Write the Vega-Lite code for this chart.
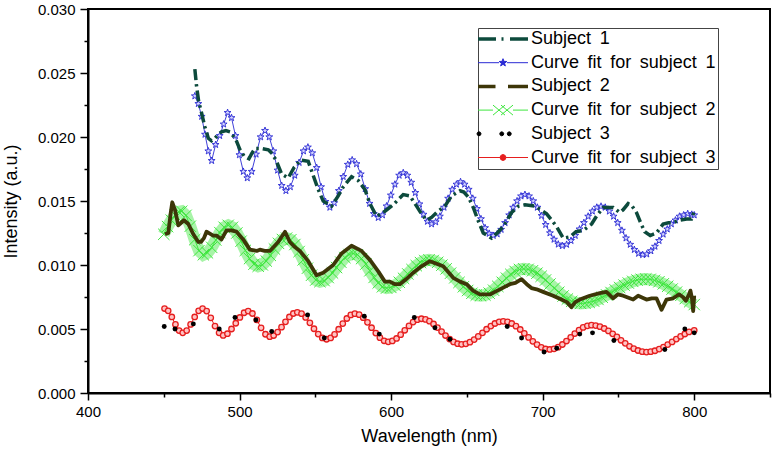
{
  "$schema": "https://vega.github.io/schema/vega-lite/v6.json",
  "width": 682,
  "height": 384,
  "autosize": {"type": "none"},
  "padding": {"left": 88, "top": 9, "right": 10, "bottom": 59},
  "config": {
    "font": "Liberation Sans",
    "view": {"stroke": "#000", "strokeWidth": 2},
    "axis": {"labelColor": "#000", "titleColor": "#000", "titleFontWeight": "normal", "labelFont": "Liberation Sans", "titleFont": "Liberation Sans", "grid": false, "domainColor": "#000", "domainWidth": 2, "tickColor": "#000", "tickWidth": 1.5, "labelFontSize": 15, "titleFontSize": 18, "labelFlush": false, "labelOverlap": false}
  },
  "datasets": {
    "s1": [{"wl":470.5,"val":0.0253},{"wl":471.6,"val":0.0240},{"wl":473,"val":0.0228},{"wl":474.9,"val":0.0219},{"wl":477.1,"val":0.0208},{"wl":479.4,"val":0.0199},{"wl":481.5,"val":0.0197},{"wl":483.7,"val":0.0199},{"wl":486,"val":0.0202},{"wl":488.1,"val":0.0204},{"wl":491,"val":0.0205},{"wl":493.7,"val":0.0204},{"wl":497.6,"val":0.0198},{"wl":500.3,"val":0.0190},{"wl":503,"val":0.0185},{"wl":506.2,"val":0.0183},{"wl":508,"val":0.0187},{"wl":510.2,"val":0.0191},{"wl":514.6,"val":0.0191},{"wl":519,"val":0.0190},{"wl":521.5,"val":0.0187},{"wl":524,"val":0.0182},{"wl":527.8,"val":0.0171},{"wl":532.1,"val":0.0168},{"wl":535.9,"val":0.0176},{"wl":540.2,"val":0.0182},{"wl":545.3,"val":0.0181},{"wl":548.6,"val":0.0170},{"wl":551.9,"val":0.0159},{"wl":555.2,"val":0.0150},{"wl":560.7,"val":0.0146},{"wl":565.1,"val":0.0154},{"wl":568.4,"val":0.0161},{"wl":573.9,"val":0.0169},{"wl":578.3,"val":0.0166},{"wl":582.7,"val":0.0159},{"wl":586,"val":0.0148},{"wl":590.4,"val":0.0138},{"wl":595.9,"val":0.0142},{"wl":601.3,"val":0.0147},{"wl":608,"val":0.0155},{"wl":612.4,"val":0.0154},{"wl":616.8,"val":0.0146},{"wl":620,"val":0.0140},{"wl":623.4,"val":0.0135},{"wl":626.5,"val":0.0137},{"wl":630,"val":0.0141},{"wl":635.5,"val":0.0146},{"wl":639.9,"val":0.0154},{"wl":645.4,"val":0.0158},{"wl":648,"val":0.0157},{"wl":651,"val":0.0153},{"wl":654.2,"val":0.0145},{"wl":657,"val":0.0136},{"wl":660.8,"val":0.0125},{"wl":666.3,"val":0.0121},{"wl":670,"val":0.0125},{"wl":674,"val":0.0130},{"wl":679.5,"val":0.0141},{"wl":684,"val":0.0146},{"wl":688.3,"val":0.0147},{"wl":695,"val":0.0146},{"wl":702.6,"val":0.0140},{"wl":706,"val":0.0135},{"wl":709.2,"val":0.0130},{"wl":713.6,"val":0.0121},{"wl":718,"val":0.0122},{"wl":722,"val":0.0126},{"wl":726.8,"val":0.0127},{"wl":732.3,"val":0.0132},{"wl":736,"val":0.0139},{"wl":740,"val":0.0145},{"wl":746.6,"val":0.0145},{"wl":750.9,"val":0.0141},{"wl":753,"val":0.0143},{"wl":756.4,"val":0.0148},{"wl":759,"val":0.0146},{"wl":761.9,"val":0.0141},{"wl":765,"val":0.0132},{"wl":767.4,"val":0.0126},{"wl":771,"val":0.0123},{"wl":775.1,"val":0.0125},{"wl":779.5,"val":0.0132},{"wl":783,"val":0.0133},{"wl":786.1,"val":0.0133},{"wl":790,"val":0.0135},{"wl":795,"val":0.0136},{"wl":798.2,"val":0.0136},{"wl":800,"val":0.0142}],
    "f1": [{"wl":470.5,"val":0.0232},{"wl":472.8,"val":0.0226},{"wl":475.0,"val":0.0216},{"wl":477.2,"val":0.0202},{"wl":479.4,"val":0.0189},{"wl":481.6,"val":0.01815},{"wl":484.2,"val":0.0194},{"wl":486.9,"val":0.0201},{"wl":489.5,"val":0.0210},{"wl":492.1,"val":0.0219},{"wl":494.7,"val":0.0215},{"wl":497.3,"val":0.0201},{"wl":499.9,"val":0.0186},{"wl":502.5,"val":0.0173},{"wl":505.1,"val":0.0168},{"wl":508.0,"val":0.0173},{"wl":510.9,"val":0.01865},{"wl":513.9,"val":0.0200},{"wl":516.8,"val":0.0205},{"wl":519.6,"val":0.0200},{"wl":522.3,"val":0.0189},{"wl":525.1,"val":0.0174},{"wl":527.8,"val":0.0162},{"wl":530.6,"val":0.0158},{"wl":533.5,"val":0.0161},{"wl":536.4,"val":0.0170},{"wl":539.3,"val":0.0180},{"wl":542.2,"val":0.0189},{"wl":545.1,"val":0.0192},{"wl":548.0,"val":0.01875},{"wl":550.9,"val":0.0176},{"wl":553.8,"val":0.0161},{"wl":556.7,"val":0.01495},{"wl":559.6,"val":0.0145},{"wl":562.5,"val":0.01485},{"wl":565.5,"val":0.0158},{"wl":568.4,"val":0.0169},{"wl":571.4,"val":0.01785},{"wl":574.3,"val":0.0182},{"wl":577.2,"val":0.0179},{"wl":580.0,"val":0.0171},{"wl":582.9,"val":0.01595},{"wl":585.8,"val":0.0148},{"wl":588.6,"val":0.0140},{"wl":591.5,"val":0.0137},{"wl":594.3,"val":0.0139},{"wl":597.0,"val":0.0146},{"wl":599.8,"val":0.01545},{"wl":602.5,"val":0.0163},{"wl":605.3,"val":0.0170},{"wl":608.0,"val":0.0172},{"wl":610.7,"val":0.0170},{"wl":613.3,"val":0.01645},{"wl":616.0,"val":0.01565},{"wl":618.7,"val":0.01476},{"wl":621.4,"val":0.01395},{"wl":624.0,"val":0.0134},{"wl":626.7,"val":0.0132},{"wl":629.4,"val":0.01336},{"wl":632.2,"val":0.0138},{"wl":634.9,"val":0.0145},{"wl":637.6,"val":0.0152},{"wl":640.3,"val":0.0159},{"wl":643.1,"val":0.0163},{"wl":645.8,"val":0.0165},{"wl":648.5,"val":0.0163},{"wl":651.2,"val":0.0159},{"wl":653.9,"val":0.0152},{"wl":656.6,"val":0.0144},{"wl":659.3,"val":0.0136},{"wl":662.0,"val":0.0129},{"wl":664.7,"val":0.01246},{"wl":667.4,"val":0.0123},{"wl":670.0,"val":0.01242},{"wl":672.6,"val":0.01277},{"wl":675.2,"val":0.0133},{"wl":677.9,"val":0.0139},{"wl":680.5,"val":0.0145},{"wl":683.1,"val":0.0150},{"wl":685.7,"val":0.01538},{"wl":688.3,"val":0.0155},{"wl":691.0,"val":0.01538},{"wl":693.8,"val":0.0150},{"wl":696.5,"val":0.0145},{"wl":699.3,"val":0.01385},{"wl":702.0,"val":0.01315},{"wl":704.8,"val":0.0125},{"wl":707.5,"val":0.0120},{"wl":710.3,"val":0.01162},{"wl":713.0,"val":0.0115},{"wl":715.8,"val":0.0116},{"wl":718.7,"val":0.0119},{"wl":721.5,"val":0.0123},{"wl":724.3,"val":0.0128},{"wl":727.2,"val":0.0133},{"wl":730.0,"val":0.0138},{"wl":732.8,"val":0.0142},{"wl":735.7,"val":0.0145},{"wl":738.5,"val":0.01458},{"wl":741.3,"val":0.0145},{"wl":744.0,"val":0.0142},{"wl":746.8,"val":0.0138},{"wl":749.5,"val":0.0133},{"wl":752.3,"val":0.0127},{"wl":755.0,"val":0.0121},{"wl":757.8,"val":0.0116},{"wl":760.5,"val":0.0112},{"wl":763.3,"val":0.0109},{"wl":766.0,"val":0.0108},{"wl":768.7,"val":0.01085},{"wl":771.4,"val":0.0111},{"wl":774.1,"val":0.01145},{"wl":776.8,"val":0.0119},{"wl":779.5,"val":0.0124},{"wl":782.2,"val":0.0128},{"wl":784.9,"val":0.0132},{"wl":787.6,"val":0.0135},{"wl":790.3,"val":0.0138},{"wl":793.0,"val":0.0139},{"wl":795.7,"val":0.0140},{"wl":798.4,"val":0.01395},{"wl":800.0,"val":0.0139}],
    "s2": [{"wl":450.8,"val":0.0124},{"wl":453.0,"val":0.0125},{"wl":454.5,"val":0.0140},{"wl":455.6,"val":0.0149},{"wl":457.4,"val":0.0143},{"wl":459.6,"val":0.0131},{"wl":461.5,"val":0.0133},{"wl":463.3,"val":0.0135},{"wl":466.2,"val":0.0132},{"wl":469.5,"val":0.0124},{"wl":472.8,"val":0.0118},{"wl":474.5,"val":0.0118},{"wl":476.5,"val":0.0121},{"wl":478.2,"val":0.0126},{"wl":482.6,"val":0.0123},{"wl":484.8,"val":0.0123},{"wl":488.1,"val":0.0120},{"wl":491.4,"val":0.0127},{"wl":494.5,"val":0.0127},{"wl":498.0,"val":0.0126},{"wl":502.4,"val":0.0120},{"wl":506.8,"val":0.0112},{"wl":511.3,"val":0.0111},{"wl":513.4,"val":0.0112},{"wl":516.5,"val":0.0111},{"wl":520.0,"val":0.0111},{"wl":525.5,"val":0.0118},{"wl":530.0,"val":0.0126},{"wl":533.2,"val":0.0118},{"wl":536.5,"val":0.0114},{"wl":539.8,"val":0.0111},{"wl":545.3,"val":0.0103},{"wl":550.8,"val":0.0092},{"wl":555.2,"val":0.0094},{"wl":561.8,"val":0.0100},{"wl":567.3,"val":0.0109},{"wl":573.9,"val":0.0115},{"wl":580.5,"val":0.0111},{"wl":586.0,"val":0.0104},{"wl":591.5,"val":0.0095},{"wl":595.9,"val":0.0087},{"wl":599.2,"val":0.0087},{"wl":602.5,"val":0.0085},{"wl":605.8,"val":0.0085},{"wl":610.0,"val":0.0089},{"wl":614.6,"val":0.0094},{"wl":620.0,"val":0.0099},{"wl":625.6,"val":0.0103},{"wl":630.0,"val":0.0101},{"wl":634.4,"val":0.0099},{"wl":641.0,"val":0.0090},{"wl":645.5,"val":0.0087},{"wl":649.8,"val":0.0085},{"wl":654.0,"val":0.0080},{"wl":658.6,"val":0.0077},{"wl":665.2,"val":0.0077},{"wl":668.5,"val":0.0079},{"wl":671.8,"val":0.0081},{"wl":678.4,"val":0.0085},{"wl":682.0,"val":0.0086},{"wl":686.0,"val":0.0089},{"wl":689.5,"val":0.0085},{"wl":692.6,"val":0.0082},{"wl":696.0,"val":0.0081},{"wl":700.3,"val":0.0079},{"wl":706.9,"val":0.0076},{"wl":712.4,"val":0.0073},{"wl":716.0,"val":0.0071},{"wl":719.0,"val":0.0067},{"wl":721.5,"val":0.0071},{"wl":724.5,"val":0.0073},{"wl":731.1,"val":0.0076},{"wl":737.7,"val":0.0078},{"wl":742.1,"val":0.0079},{"wl":746.5,"val":0.0074},{"wl":749.5,"val":0.0077},{"wl":753.1,"val":0.0076},{"wl":759.7,"val":0.0073},{"wl":763.0,"val":0.0076},{"wl":768.5,"val":0.0073},{"wl":772.0,"val":0.0074},{"wl":775.1,"val":0.0074},{"wl":778.4,"val":0.0065},{"wl":781.7,"val":0.0073},{"wl":786.1,"val":0.0074},{"wl":790.0,"val":0.0077},{"wl":792.5,"val":0.0075},{"wl":794.5,"val":0.0072},{"wl":796.5,"val":0.0077},{"wl":797.5,"val":0.0080},{"wl":798.5,"val":0.0074},{"wl":799.3,"val":0.0064},{"wl":800.0,"val":0.0076}],
    "f2": [{"wl":450.0,"val":0.0124},{"wl":452.5,"val":0.0130},{"wl":455.0,"val":0.0135},{"wl":457.5,"val":0.0139},{"wl":460.0,"val":0.01415},{"wl":461.8,"val":0.0142},{"wl":464.7,"val":0.01388},{"wl":467.5,"val":0.01303},{"wl":470.4,"val":0.01198},{"wl":473.2,"val":0.01112},{"wl":476.1,"val":0.0108},{"wl":478.8,"val":0.01095},{"wl":481.6,"val":0.01138},{"wl":484.3,"val":0.01195},{"wl":487.0,"val":0.01253},{"wl":489.8,"val":0.01295},{"wl":492.5,"val":0.0131},{"wl":495.3,"val":0.01294},{"wl":498.2,"val":0.0125},{"wl":501.0,"val":0.01186},{"wl":503.8,"val":0.01114},{"wl":506.6,"val":0.0105},{"wl":509.5,"val":0.01006},{"wl":512.3,"val":0.0099},{"wl":515.0,"val":0.01001},{"wl":517.6,"val":0.01031},{"wl":520.3,"val":0.01075},{"wl":523.0,"val":0.01125},{"wl":525.7,"val":0.01169},{"wl":528.3,"val":0.01199},{"wl":531.0,"val":0.0121},{"wl":533.8,"val":0.01197},{"wl":536.5,"val":0.0116},{"wl":539.3,"val":0.01105},{"wl":542.0,"val":0.0104},{"wl":544.8,"val":0.00975},{"wl":547.5,"val":0.0092},{"wl":550.3,"val":0.00883},{"wl":553.0,"val":0.0087},{"wl":555.8,"val":0.00878},{"wl":558.5,"val":0.00902},{"wl":561.3,"val":0.00938},{"wl":564.0,"val":0.0098},{"wl":566.8,"val":0.01022},{"wl":569.5,"val":0.01058},{"wl":572.3,"val":0.01082},{"wl":575.0,"val":0.0109},{"wl":577.8,"val":0.0108},{"wl":580.5,"val":0.0105},{"wl":583.3,"val":0.01007},{"wl":586.0,"val":0.00955},{"wl":588.8,"val":0.00903},{"wl":591.5,"val":0.0086},{"wl":594.3,"val":0.0083},{"wl":597.0,"val":0.0082},{"wl":599.8,"val":0.00825},{"wl":602.6,"val":0.00841},{"wl":605.4,"val":0.00865},{"wl":608.2,"val":0.00896},{"wl":611.0,"val":0.0093},{"wl":613.8,"val":0.00964},{"wl":616.6,"val":0.00995},{"wl":619.4,"val":0.01019},{"wl":622.2,"val":0.01035},{"wl":625.0,"val":0.0104},{"wl":627.8,"val":0.01035},{"wl":630.7,"val":0.01021},{"wl":633.5,"val":0.00999},{"wl":636.3,"val":0.0097},{"wl":639.2,"val":0.00936},{"wl":642.0,"val":0.009},{"wl":644.8,"val":0.00864},{"wl":647.7,"val":0.0083},{"wl":650.5,"val":0.00801},{"wl":653.3,"val":0.00779},{"wl":656.2,"val":0.00765},{"wl":659.0,"val":0.0076},{"wl":661.9,"val":0.00765},{"wl":664.7,"val":0.0078},{"wl":667.6,"val":0.00803},{"wl":670.4,"val":0.00833},{"wl":673.3,"val":0.00865},{"wl":676.1,"val":0.00897},{"wl":679.0,"val":0.00927},{"wl":681.8,"val":0.0095},{"wl":684.7,"val":0.00965},{"wl":687.5,"val":0.0097},{"wl":690.4,"val":0.00966},{"wl":693.3,"val":0.00955},{"wl":696.2,"val":0.00936},{"wl":699.0,"val":0.00912},{"wl":701.9,"val":0.00883},{"wl":704.8,"val":0.00851},{"wl":707.7,"val":0.00819},{"wl":710.6,"val":0.00787},{"wl":713.5,"val":0.00758},{"wl":716.3,"val":0.00734},{"wl":719.2,"val":0.00716},{"wl":722.1,"val":0.00704},{"wl":725.0,"val":0.0070},{"wl":727.9,"val":0.00702},{"wl":730.7,"val":0.00708},{"wl":733.6,"val":0.00718},{"wl":736.5,"val":0.00731},{"wl":739.3,"val":0.00748},{"wl":742.2,"val":0.00766},{"wl":745.1,"val":0.00785},{"wl":747.9,"val":0.00805},{"wl":750.8,"val":0.00824},{"wl":753.7,"val":0.00843},{"wl":756.5,"val":0.00859},{"wl":759.4,"val":0.00872},{"wl":762.3,"val":0.00882},{"wl":765.1,"val":0.00888},{"wl":768.0,"val":0.0089},{"wl":770.9,"val":0.00888},{"wl":773.8,"val":0.0088},{"wl":776.7,"val":0.00869},{"wl":779.6,"val":0.00853},{"wl":782.5,"val":0.00834},{"wl":785.4,"val":0.00812},{"wl":788.3,"val":0.00788},{"wl":791.2,"val":0.00763},{"wl":794.1,"val":0.00738},{"wl":797.0,"val":0.00713},{"wl":800.0,"val":0.00691}],
    "s3": [{"wl":450.3,"val":0.0052},{"wl":457.4,"val":0.0050},{"wl":469.5,"val":0.0054},{"wl":486.6,"val":0.0050},{"wl":497.0,"val":0.0059},{"wl":510.8,"val":0.0057},{"wl":521.2,"val":0.0048},{"wl":544.9,"val":0.0061},{"wl":555.9,"val":0.0043},{"wl":582.3,"val":0.0060},{"wl":592.2,"val":0.0046},{"wl":615.3,"val":0.0059},{"wl":628.9,"val":0.0051},{"wl":638.8,"val":0.0042},{"wl":676.6,"val":0.0052},{"wl":686.1,"val":0.0043},{"wl":700.9,"val":0.0032},{"wl":709.3,"val":0.0035},{"wl":724.5,"val":0.0046},{"wl":732.9,"val":0.0047},{"wl":747.0,"val":0.0041},{"wl":780.6,"val":0.0034},{"wl":793.8,"val":0.0050},{"wl":800.0,"val":0.0047}],
    "f3": [{"wl":450.5,"val":0.0066},{"wl":452.9,"val":0.00642},{"wl":455.3,"val":0.00594},{"wl":457.7,"val":0.00536},{"wl":460.1,"val":0.00488},{"wl":462.5,"val":0.0047},{"wl":465.1,"val":0.00488},{"wl":467.7,"val":0.00536},{"wl":470.4,"val":0.00594},{"wl":473.0,"val":0.00642},{"wl":475.6,"val":0.0066},{"wl":478.3,"val":0.0064},{"wl":481.0,"val":0.00587},{"wl":483.8,"val":0.00523},{"wl":486.5,"val":0.0047},{"wl":489.2,"val":0.0045},{"wl":492.0,"val":0.00463},{"wl":494.7,"val":0.0050},{"wl":497.5,"val":0.00545},{"wl":500.2,"val":0.0059},{"wl":503.0,"val":0.00627},{"wl":505.7,"val":0.0064},{"wl":508.5,"val":0.00621},{"wl":511.4,"val":0.00571},{"wl":514.2,"val":0.00509},{"wl":517.1,"val":0.00459},{"wl":519.9,"val":0.0044},{"wl":522.5,"val":0.00449},{"wl":525.1,"val":0.00476},{"wl":527.7,"val":0.00514},{"wl":530.3,"val":0.00556},{"wl":532.9,"val":0.00594},{"wl":535.5,"val":0.00621},{"wl":538.1,"val":0.0063},{"wl":540.9,"val":0.0062},{"wl":543.6,"val":0.0059},{"wl":546.4,"val":0.00548},{"wl":549.1,"val":0.00502},{"wl":551.9,"val":0.0046},{"wl":554.6,"val":0.0043},{"wl":557.4,"val":0.0042},{"wl":560.1,"val":0.0043},{"wl":562.7,"val":0.00458},{"wl":565.4,"val":0.00498},{"wl":568.1,"val":0.00542},{"wl":570.8,"val":0.00582},{"wl":573.4,"val":0.0061},{"wl":576.1,"val":0.0062},{"wl":578.9,"val":0.00612},{"wl":581.6,"val":0.00588},{"wl":584.4,"val":0.00552},{"wl":587.1,"val":0.0051},{"wl":589.9,"val":0.00468},{"wl":592.6,"val":0.00432},{"wl":595.4,"val":0.00408},{"wl":598.1,"val":0.0040},{"wl":600.8,"val":0.00407},{"wl":603.6,"val":0.00426},{"wl":606.3,"val":0.00456},{"wl":609.0,"val":0.0049},{"wl":611.8,"val":0.00524},{"wl":614.5,"val":0.00554},{"wl":617.3,"val":0.00573},{"wl":620.0,"val":0.0058},{"wl":622.7,"val":0.00575},{"wl":625.3,"val":0.00561},{"wl":628.0,"val":0.00539},{"wl":630.6,"val":0.00511},{"wl":633.3,"val":0.0048},{"wl":635.9,"val":0.00449},{"wl":638.6,"val":0.00421},{"wl":641.2,"val":0.00399},{"wl":643.9,"val":0.00385},{"wl":646.5,"val":0.0038},{"wl":649.3,"val":0.00384},{"wl":652.0,"val":0.00397},{"wl":654.8,"val":0.00417},{"wl":657.5,"val":0.00442},{"wl":660.3,"val":0.0047},{"wl":663.0,"val":0.00498},{"wl":665.8,"val":0.00523},{"wl":668.5,"val":0.00543},{"wl":671.3,"val":0.00556},{"wl":674.0,"val":0.0056},{"wl":676.8,"val":0.00556},{"wl":679.6,"val":0.00543},{"wl":682.4,"val":0.00522},{"wl":685.2,"val":0.00496},{"wl":687.9,"val":0.00466},{"wl":690.7,"val":0.00434},{"wl":693.5,"val":0.00404},{"wl":696.3,"val":0.00378},{"wl":699.1,"val":0.00357},{"wl":701.9,"val":0.00344},{"wl":704.7,"val":0.0034},{"wl":707.5,"val":0.00345},{"wl":710.2,"val":0.00358},{"wl":713.0,"val":0.00379},{"wl":715.7,"val":0.00406},{"wl":718.5,"val":0.00435},{"wl":721.2,"val":0.00464},{"wl":724.0,"val":0.00491},{"wl":726.7,"val":0.00512},{"wl":729.5,"val":0.00525},{"wl":732.2,"val":0.0053},{"wl":735.0,"val":0.00527},{"wl":737.8,"val":0.00518},{"wl":740.6,"val":0.00504},{"wl":743.4,"val":0.00485},{"wl":746.2,"val":0.00462},{"wl":749.0,"val":0.00438},{"wl":751.7,"val":0.00412},{"wl":754.5,"val":0.00388},{"wl":757.3,"val":0.00365},{"wl":760.1,"val":0.00346},{"wl":762.9,"val":0.00332},{"wl":765.7,"val":0.00323},{"wl":768.5,"val":0.0032},{"wl":771.3,"val":0.00323},{"wl":774.1,"val":0.0033},{"wl":776.9,"val":0.00343},{"wl":779.7,"val":0.00359},{"wl":782.5,"val":0.00378},{"wl":785.4,"val":0.00399},{"wl":788.2,"val":0.00421},{"wl":791.0,"val":0.00442},{"wl":793.8,"val":0.00461},{"wl":796.6,"val":0.00477},{"wl":800.0,"val":0.0049}]
  },
  "encoding": {
    "x": {"field": "wl", "type": "quantitative", "title": "Wavelength (nm)",
      "scale": {"domain": [400, 850], "nice": false, "zero": false},
      "axis": {"values": [400,450,500,550,600,650,700,750,800,850], "labelExpr": "datum.value % 100 === 0 ? datum.label : ''", "tickSize": {"condition": {"test": "datum.value % 100 === 0", "value": 7}, "value": 4}, "labelPadding": 4, "titlePadding": 8}},
    "y": {"field": "val", "type": "quantitative", "title": "Intensity (a.u.)",
      "scale": {"domain": [0, 0.03], "nice": false},
      "axis": {"values": [0,0.0025,0.005,0.0075,0.01,0.0125,0.015,0.0175,0.02,0.0225,0.025,0.0275,0.03], "format": ".3f", "labelExpr": "round(datum.value*10000) % 50 === 0 ? datum.label : ''", "tickSize": {"condition": {"test": "round(datum.value*10000) % 50 === 0", "value": 8}, "value": 4}, "labelPadding": 5, "titlePadding": 17}}
  },
  "layer": [
    {"data": {"name": "f2"}, "mark": {"type": "line", "strokeWidth": 1},
      "encoding": {"color": {"datum": "Curve fit for subject 2", "type": "nominal",
        "scale": {"domain": ["Subject 1", "Curve fit for subject 1", "Subject 2", "Curve fit for subject 2", "Subject 3", "Curve fit for subject 3"], "range": ["#0c4a3c", "#2a2ad4", "#3d3608", "#3ee63e", "#000000", "#e61e1e"]},
        "legend": {"title": null, "orient": "none", "legendX": 390, "legendY": 19, "padding": 2, "strokeColor": "#444444", "fillColor": "#ffffff", "labelFont": "Liberation Sans", "labelFontSize": 18, "labelColor": "#000", "labelLimit": 400, "labelOffset": 3, "rowPadding": 5.7, "symbolSize": 2500, "symbolStrokeWidth": 1, "symbolOpacity": 1, "symbolDash": [],
          "labelExpr": "join(split(datum.label, ' '), ' \u2009')",
          "encode": {
            "labels": {"update": {"x": {"value": 51}}},
            "symbols": {"update": {
            "x": {"value": 23},
            "shape": {"signal": "datum.value === 'Subject 1' ? 'M-1,0L-0.28,0M-0.06,0L0.02,0M0.28,0L1,0' : datum.value === 'Curve fit for subject 1' ? 'M-1,0L-0.16,0M0.16,0L1,0M0,-0.16L0.038,-0.053L0.152,-0.049L0.062,0.02L0.094,0.129L0,0.065L-0.094,0.129L-0.062,0.02L-0.152,-0.049L-0.038,-0.053Z' : datum.value === 'Subject 2' ? 'M-1,0L-0.3,0M0.2,0L1,0' : datum.value === 'Curve fit for subject 2' ? 'M-1,0L-0.4,0M0.4,0L1,0M-0.4,-0.2L0.08,0.2M-0.4,0.2L0.08,-0.2M-0.08,-0.2L0.4,0.2M-0.08,0.2L0.4,-0.2' : datum.value === 'Subject 3' ? 'M-0.88,0L-0.903,0.057L-0.96,0.08L-1.017,0.057L-1.04,0L-1.017,-0.057L-0.96,-0.08L-0.903,-0.057ZM0.03,0L0.007,0.057L-0.05,0.08L-0.107,0.057L-0.13,0L-0.107,-0.057L-0.05,-0.08L0.007,-0.057ZM0.33,0L0.307,0.057L0.25,0.08L0.193,0.057L0.17,0L0.193,-0.057L0.25,-0.08L0.307,-0.057Z' : 'M-1,0L-0.12,0M0.12,0L1,0M0.12,0L0.085,0.085L0,0.12L-0.085,0.085L-0.12,0L-0.085,-0.085L0,-0.12L0.085,-0.085Z'"},
            "stroke": {"signal": "datum.value === 'Subject 1' ? '#0c4a3c' : datum.value === 'Curve fit for subject 1' ? '#2a2ad4' : datum.value === 'Subject 2' ? '#3d3608' : datum.value === 'Curve fit for subject 2' ? '#3ee63e' : datum.value === 'Subject 3' ? '#000000' : '#e61e1e'"},
            "fill": {"signal": "datum.value === 'Curve fit for subject 1' ? '#2a2ad4' : datum.value === 'Subject 3' ? '#000000' : datum.value === 'Curve fit for subject 3' ? '#e61e1e' : 'transparent'"},
            "strokeWidth": {"signal": "datum.value === 'Subject 1' || datum.value === 'Subject 2' ? 3.5 : 1"}
          }}}}}}},
    {"data": {"name": "f2"}, "mark": {"type": "line", "strokeWidth": 12, "opacity": 0.45, "strokeCap": "butt"},
      "encoding": {"color": {"datum": "Curve fit for subject 2", "type": "nominal"}}},
    {"data": {"name": "f2"}, "mark": {"type": "point", "shape": "M-1,-1L1,1M-1,1L1,-1", "filled": false, "size": 130, "strokeWidth": 1, "opacity": 1},
      "encoding": {"color": {"datum": "Curve fit for subject 2", "type": "nominal"}}},
    {"data": {"name": "s2"}, "mark": {"type": "line", "strokeWidth": 3.8, "strokeJoin": "round"},
      "encoding": {"color": {"datum": "Subject 2", "type": "nominal"}}},
    {"data": {"name": "f3"}, "mark": {"type": "line", "strokeWidth": 1},
      "encoding": {"color": {"datum": "Curve fit for subject 3", "type": "nominal"}}},
    {"data": {"name": "f3"}, "mark": {"type": "point", "shape": "circle", "filled": false, "fill": "#ffc4c4", "size": 30, "strokeWidth": 1.3, "opacity": 1},
      "encoding": {"color": {"datum": "Curve fit for subject 3", "type": "nominal"}}},
    {"data": {"name": "s3"}, "mark": {"type": "point", "shape": "circle", "filled": true, "size": 24, "opacity": 1},
      "encoding": {"color": {"datum": "Subject 3", "type": "nominal"}}},
    {"data": {"name": "f1"}, "mark": {"type": "line", "strokeWidth": 0.9},
      "encoding": {"color": {"datum": "Curve fit for subject 1", "type": "nominal"}}},
    {"data": {"name": "f1"}, "mark": {"type": "point", "shape": "M0,-1L0.235,-0.324L0.951,-0.309L0.38,0.124L0.588,0.809L0,0.4L-0.588,0.809L-0.38,0.124L-0.951,-0.309L-0.235,-0.324Z", "filled": false, "fill": "#d4d4ff", "size": 52, "strokeWidth": 0.9, "opacity": 1},
      "encoding": {"color": {"datum": "Curve fit for subject 1", "type": "nominal"}}},
    {"data": {"name": "s1"}, "mark": {"type": "line", "strokeWidth": 3.5, "strokeDash": [11, 4, 2.5, 4]},
      "encoding": {"color": {"datum": "Subject 1", "type": "nominal"}}}
  ]
}
